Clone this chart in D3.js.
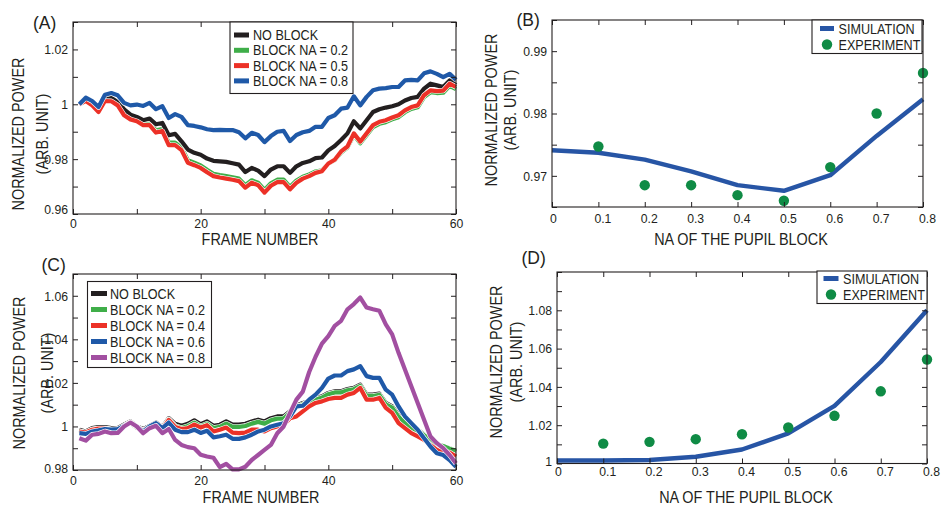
<!DOCTYPE html>
<html>
<head>
<meta charset="utf-8">
<script src="https://cdn.jsdelivr.net/npm/d3@7"></script>
<style>
  html, body { margin: 0; padding: 0; background: #fff; }
  svg text { font-family: "Liberation Sans", Arial, sans-serif; fill: #231f20; }
</style>
</head>
<body>
<svg id="fig" width="946" height="505"></svg>
<script>
// ---------- data ----------
const frames = d3.range(1, 61);

// (A) normalized power per frame
const aNoBlock = [1.0000,1.0024,1.0012,0.9980,1.0020,1.0023,1.0008,0.9982,0.9962,0.9954,
  0.9942,0.9948,0.9927,0.9932,0.9887,0.9892,0.9865,0.9835,0.9823,0.9816,
  0.9802,0.9794,0.9792,0.9790,0.9785,0.9780,0.9753,0.9768,0.9758,0.9738,
  0.9762,0.9774,0.9774,0.9750,0.9774,0.9786,0.9792,0.9804,0.9806,0.9832,
  0.9848,0.9870,0.9894,0.9938,0.9912,0.9942,0.9972,0.9982,0.9988,0.9993,
  1.0000,1.0014,1.0023,1.0027,1.0057,1.0075,1.0069,1.0063,1.0087,1.0069];
const aNA02 = [1.0000,1.0016,1.0002,0.9976,1.0016,1.0015,1.0001,0.9966,0.9951,0.9944,
  0.9931,0.9931,0.9905,0.9910,0.9860,0.9860,0.9842,0.9796,0.9787,0.9777,
  0.9761,0.9747,0.9742,0.9738,0.9734,0.9729,0.9705,0.9723,0.9714,0.9688,
  0.9712,0.9725,0.9725,0.9699,0.9722,0.9736,0.9744,0.9755,0.9759,0.9784,
  0.9796,0.9824,0.9842,0.9888,0.9858,0.9887,0.9917,0.9929,0.9935,0.9945,
  0.9953,0.9971,0.9983,0.9989,1.0026,1.0044,1.0041,1.0042,1.0067,1.0055];
const aNA05 = [1.0000,1.0012,0.9996,0.9972,1.0012,1.0011,0.9996,0.9960,0.9945,0.9938,
  0.9924,0.9924,0.9897,0.9902,0.9851,0.9851,0.9833,0.9787,0.9778,0.9768,
  0.9752,0.9738,0.9733,0.9729,0.9725,0.9720,0.9696,0.9714,0.9705,0.9678,
  0.9703,0.9716,0.9716,0.9690,0.9714,0.9729,0.9738,0.9750,0.9756,0.9784,
  0.9798,0.9828,0.9846,0.9894,0.9864,0.9894,0.9924,0.9936,0.9942,0.9952,
  0.9960,0.9978,0.9990,0.9996,1.0033,1.0051,1.0048,1.0050,1.0075,1.0063];
const aNA08 = [1.0000,1.0024,1.0012,0.9990,1.0035,1.0041,1.0033,1.0005,0.9996,0.9999,
  0.9994,1.0005,0.9982,0.9993,0.9950,0.9964,0.9954,0.9924,0.9921,0.9916,
  0.9909,0.9906,0.9907,0.9906,0.9906,0.9898,0.9876,0.9896,0.9888,0.9862,
  0.9884,0.9900,0.9903,0.9866,0.9888,0.9898,0.9903,0.9918,0.9918,0.9950,
  0.9960,0.9984,0.9988,1.0029,0.9996,1.0027,1.0051,1.0057,1.0059,1.0063,
  1.0063,1.0087,1.0089,1.0087,1.0113,1.0120,1.0111,1.0099,1.0111,1.0089];

// (C) normalized power per frame
const cNoBlock = [0.9985,0.9977,0.9992,0.9997,0.9997,0.9992,0.9992,1.0008,1.0023,1.0000,
  0.9988,1.0003,1.0018,0.9997,1.0038,1.0012,1.0003,1.0012,1.0028,1.0010,
  1.0023,1.0003,1.0008,1.0023,1.0008,1.0008,1.0012,1.0023,1.0031,1.0023,
  1.0038,1.0046,1.0046,1.0069,1.0095,1.0108,1.0115,1.0131,1.0138,1.0154,
  1.0162,1.0162,1.0172,1.0177,1.0192,1.0146,1.0146,1.0151,1.0108,1.0092,
  1.0054,1.0023,1.0000,0.9985,0.9962,0.9938,0.9915,0.9908,0.9900,0.9885];
const cNA02 = [0.9979,0.9971,0.9986,0.9991,0.9991,0.9986,0.9986,1.0002,1.0017,0.9994,
  0.9982,0.9997,1.0012,0.9991,1.0032,1.0002,0.9993,1.0002,1.0018,1.0000,
  1.0013,0.9993,0.9998,1.0013,0.9998,0.9998,1.0002,1.0013,1.0021,1.0013,
  1.0028,1.0036,1.0036,1.0063,1.0089,1.0102,1.0109,1.0125,1.0132,1.0148,
  1.0156,1.0156,1.0166,1.0171,1.0186,1.0140,1.0140,1.0145,1.0102,1.0086,
  1.0045,1.0015,0.9995,0.9980,0.9960,0.9938,0.9918,0.9910,0.9898,0.9888];
const cNA04 = [0.9977,0.9972,0.9985,0.9990,0.9990,0.9985,0.9985,1.0003,1.0020,0.9997,
  0.9982,0.9997,1.0012,0.9990,1.0030,0.9998,0.9988,0.9992,1.0008,0.9995,
  1.0006,0.9977,0.9985,0.9995,0.9972,0.9969,0.9972,0.9985,0.9985,0.9977,
  0.9992,1.0000,1.0008,1.0038,1.0046,1.0069,1.0092,1.0108,1.0115,1.0126,
  1.0131,1.0131,1.0146,1.0154,1.0177,1.0123,1.0123,1.0131,1.0085,1.0062,
  1.0015,0.9992,0.9969,0.9954,0.9938,0.9915,0.9892,0.9885,0.9880,0.9862];
const cNA06 = [0.9969,0.9966,0.9977,0.9982,0.9988,0.9985,0.9988,1.0003,1.0018,1.0000,
  0.9977,1.0000,1.0015,0.9992,1.0018,0.9985,0.9974,0.9974,0.9985,0.9970,
  0.9980,0.9950,0.9955,0.9962,0.9943,0.9943,0.9950,0.9962,0.9977,0.9985,
  1.0000,1.0008,1.0015,1.0046,1.0092,1.0095,1.0123,1.0146,1.0177,1.0220,
  1.0234,1.0234,1.0254,1.0262,1.0277,1.0231,1.0223,1.0223,1.0169,1.0146,
  1.0092,1.0046,1.0015,0.9985,0.9946,0.9908,0.9877,0.9869,0.9846,0.9815];
const cNA08 = [0.9946,0.9935,0.9962,0.9966,0.9977,0.9969,0.9970,1.0000,1.0018,1.0000,
  0.9969,0.9992,1.0003,0.9969,0.9988,0.9938,0.9915,0.9905,0.9900,0.9870,
  0.9862,0.9856,0.9813,0.9828,0.9803,0.9803,0.9815,0.9846,0.9869,0.9892,
  0.9915,0.9969,1.0000,1.0062,1.0123,1.0160,1.0250,1.0320,1.0380,1.0415,
  1.0462,1.0485,1.0538,1.0562,1.0592,1.0546,1.0538,1.0531,1.0469,1.0423,
  1.0338,1.0262,1.0185,1.0108,1.0031,0.9954,0.9923,0.9900,0.9869,0.9831];

// (B) and (D): NA of the pupil block
const naSim = [0, 0.1, 0.2, 0.3, 0.4, 0.5, 0.6, 0.7, 0.8];
const naExp = [0.1, 0.2, 0.3, 0.4, 0.5, 0.6, 0.7, 0.8];
const bSimulation = [0.9741, 0.9737, 0.9726, 0.9707, 0.9685, 0.9676, 0.9701, 0.9764, 0.9823];
const bExperiment = [0.9747, 0.9685, 0.9685, 0.9669, 0.9660, 0.9714, 0.9800, 0.9865];
const dSimulation = [1.0016, 1.0016, 1.0018, 1.0035, 1.0073, 1.0157, 1.0301, 1.0530, 1.0800];
const dExperiment = [1.0104, 1.0113, 1.0127, 1.0153, 1.0188, 1.0249, 1.0377, 1.0543];

// tick labels
const frameTickLabels = ["0", "20", "40", "60"];
const naTickLabels = ["0", "0.1", "0.2", "0.3", "0.4", "0.5", "0.6", "0.7", "0.8"];
const aYTickLabels = ["0.96", "0.98", "1", "1.02"];
const bYTickLabels = ["0.97", "0.98", "0.99"];
const cYTickLabels = ["0.98", "1", "1.02", "1.04", "1.06"];
const dYTickLabels = ["1", "1.02", "1.04", "1.06", "1.08"];

const aLegend = ["NO BLOCK", "BLOCK NA = 0.2", "BLOCK NA = 0.5", "BLOCK NA = 0.8"];
const cLegend = ["NO BLOCK", "BLOCK NA = 0.2", "BLOCK NA = 0.4", "BLOCK NA = 0.6", "BLOCK NA = 0.8"];
const naLegend = ["SIMULATION", "EXPERIMENT"];

// ---------- style ----------
const INK = "#231f20";
const COL = { black: "#231f20", green: "#3fae49", red: "#ec3127", blue: "#1f59a8", purple: "#a24fa1", sim: "#2755a5", exp: "#0f8b45" };

const svg = d3.select("#fig");

// narrow the set glyphs horizontally, giving a condensed face
function condense(sel, k) {
  sel.each(function () {
    const w = this.getComputedTextLength();
    if (w > 0) {
      this.setAttribute("textLength", (w * k).toFixed(1));
      this.setAttribute("lengthAdjust", "spacingAndGlyphs");
    }
  });
}

function labelAt(labels) {
  return v => {
    const s = labels.find(t => Math.abs(+t - v) < 1e-9);
    return s === undefined ? "" : s;
  };
}

function drawPanel(p) {
  const g = svg.append("g");
  const x = d3.scaleLinear().domain(p.xDomain).range([p.left, p.right]);
  const y = d3.scaleLinear().domain(p.yDomain).range([p.bottom, p.top]);

  // series
  const line = d3.line().x(d => x(d[0])).y(d => y(d[1]));
  p.series.forEach(s => {
    const pts = s.x.map((v, i) => [v, s.y[i]]);
    if (s.casing) {
      g.append("path").attr("d", line(pts)).attr("fill", "none")
        .attr("stroke", "#fff").attr("stroke-width", s.width + 1.2).attr("stroke-linejoin", "round");
    }
    g.append("path").attr("d", line(pts)).attr("fill", "none")
      .attr("stroke", s.color).attr("stroke-width", s.width).attr("stroke-linejoin", "round");
  });
  (p.dots || []).forEach(s => {
    g.selectAll(null).data(s.x.map((v, i) => [v, s.y[i]])).enter().append("circle")
      .attr("cx", d => x(d[0])).attr("cy", d => y(d[1])).attr("r", 5.2).attr("fill", s.color);
  });

  // axes, ticks pointing inward on all four sides
  const axes = [
    [d3.axisBottom(x).tickValues(p.xTicks).tickFormat(labelAt(p.xLabels)).tickPadding(p.xPad), `translate(0,${p.bottom})`, "bottom"],
    [d3.axisTop(x).tickValues(p.xTicks).tickFormat(""), `translate(0,${p.top})`, "top"],
    [d3.axisLeft(y).tickValues(p.yTicks).tickFormat(labelAt(p.yLabels)).tickPadding(5), `translate(${p.left},0)`, "left"],
    [d3.axisRight(y).tickValues(p.yTicks).tickFormat(""), `translate(${p.right},0)`, "right"]
  ];
  axes.forEach(([ax, tr, side]) => {
    const a = g.append("g").attr("transform", tr)
      .call(ax.tickSize(-5).tickSizeOuter(0));
    a.select(".domain").remove();
    a.selectAll("line").attr("stroke", INK).attr("stroke-width", 1);
    const tx = a.selectAll("text").attr("font-size", 13.6).attr("fill", INK)
      .attr("font-family", "Liberation Sans, Arial, sans-serif");
    condense(tx, 0.9);
    if (side === "left" && p.bottomLabelLift) {
      a.selectAll(".tick").filter(d => Math.abs(d - p.yDomain[0]) < 1e-9)
        .select("text").attr("y", -p.bottomLabelLift);
    }
    if (side === "bottom" && p.xLabelShift) {
      a.selectAll(".tick text").attr("dx", d => d === 0 ? 1 : p.xLabelShift);
    }
  });

  // axes box
  g.append("rect").attr("x", p.left).attr("y", p.top)
    .attr("width", p.right - p.left).attr("height", p.bottom - p.top)
    .attr("fill", "none").attr("stroke", INK).attr("stroke-width", 1.1);

  // legend
  const L = p.legend;
  const lg = g.append("g");
  lg.append("rect").attr("x", L.x0).attr("y", L.y0).attr("width", L.x1 - L.x0).attr("height", L.y1 - L.y0)
    .attr("fill", "#fff").attr("stroke", INK).attr("stroke-width", 1.1);
  L.items.forEach((it, i) => {
    const yy = L.firstY + i * L.step;
    if (it.kind === "dot") {
      lg.append("circle").attr("cx", (L.sx0 + L.sx1) / 2).attr("cy", yy).attr("r", 5.2).attr("fill", it.color);
    } else {
      lg.append("line").attr("x1", L.sx0).attr("x2", L.sx1).attr("y1", yy).attr("y2", yy)
        .attr("stroke", it.color).attr("stroke-width", 5);
    }
    const t = lg.append("text").attr("x", L.tx).attr("y", yy).attr("dy", "0.36em")
      .attr("font-size", 14).text(it.label);
    condense(t, 0.9);
  });

  // titles
  g.append("text").attr("x", p.letter[0]).attr("y", p.letter[1]).attr("font-size", 17.5).text(p.letter[2]);
  const xt = g.append("text").attr("x", p.xTitle[0]).attr("y", p.xTitle[1]).attr("dy", "0.36em")
    .attr("text-anchor", "middle").attr("font-size", 16).text(p.xTitle[2]);
  condense(xt, 0.9);
  p.yTitle.forEach(t => {
    const yt = g.append("text").attr("transform", `translate(${t[0]},${t[1]}) rotate(-90)`).attr("dy", "0.36em")
      .attr("text-anchor", "middle").attr("font-size", 16).text(t[2]);
    condense(yt, 0.9);
  });
}

const frameTicks = [0, 10, 20, 30, 40, 50, 60];
const naTicks = [0, 0.1, 0.2, 0.3, 0.4, 0.5, 0.6, 0.7, 0.8];

// (A)
drawPanel({
  left: 73, right: 456, top: 22, bottom: 214,
  xDomain: [0, 60], yDomain: [0.96, 1.03],
  xTicks: frameTicks, xLabels: frameTickLabels, xPad: 4,
  yTicks: [0.96, 0.97, 0.98, 0.99, 1.0, 1.01, 1.02, 1.03], yLabels: aYTickLabels,
  bottomLabelLift: 4.5,
  series: [
    { x: frames, y: aNA02, color: COL.green, width: 4.2, casing: true },
    { x: frames, y: aNoBlock, color: COL.black, width: 4.2, casing: true },
    { x: frames, y: aNA05, color: COL.red, width: 4.2, casing: true },
    { x: frames, y: aNA08, color: COL.blue, width: 4.2, casing: true }
  ],
  legend: { x0: 230, x1: 353, y0: 22, y1: 93.5, firstY: 35, step: 15.3, sx0: 234, sx1: 249, tx: 253,
    items: [
      { label: aLegend[0], color: COL.black }, { label: aLegend[1], color: COL.green },
      { label: aLegend[2], color: COL.red }, { label: aLegend[3], color: COL.blue }
    ] },
  letter: [33, 29, "(A)"],
  xTitle: [260, 239, "FRAME NUMBER"],
  yTitle: [[18, 134, "NORMALIZED POWER"], [42, 134, "(ARB. UNIT)"]]
});

// (B)
drawPanel({
  left: 552, right: 923, top: 20, bottom: 207,
  xDomain: [0, 0.8], yDomain: [0.965, 0.995],
  xTicks: naTicks, xLabels: naTickLabels, xPad: 6, xLabelShift: 4,
  yTicks: [0.965, 0.97, 0.975, 0.98, 0.985, 0.99, 0.995], yLabels: bYTickLabels,
  series: [{ x: naSim, y: bSimulation, color: COL.sim, width: 4.4 }],
  dots: [{ x: naExp, y: bExperiment, color: COL.exp }],
  legend: { x0: 812, x1: 922, y0: 20, y1: 53.5, firstY: 28.5, step: 16, sx0: 820, sx1: 834, tx: 838.5,
    items: [{ label: naLegend[0], color: COL.sim }, { label: naLegend[1], color: COL.exp, kind: "dot" }] },
  letter: [516.5, 26, "(B)"],
  xTitle: [741, 239.5, "NA OF THE PUPIL BLOCK"],
  yTitle: [[491.5, 110, "NORMALIZED POWER"], [510, 110, "(ARB. UNIT)"]]
});

// (C)
drawPanel({
  left: 73, right: 456, top: 274, bottom: 470,
  xDomain: [0, 60], yDomain: [0.98, 1.07],
  xTicks: frameTicks, xLabels: frameTickLabels, xPad: 5,
  yTicks: [0.98, 0.99, 1.0, 1.01, 1.02, 1.03, 1.04, 1.05, 1.06, 1.07], yLabels: cYTickLabels,
  bottomLabelLift: 2,
  series: [
    { x: frames, y: cNoBlock, color: COL.black, width: 4.2, casing: true },
    { x: frames, y: cNA02, color: COL.green, width: 4.2, casing: true },
    { x: frames, y: cNA04, color: COL.red, width: 4.2, casing: true },
    { x: frames, y: cNA06, color: COL.blue, width: 4.2, casing: true },
    { x: frames, y: cNA08, color: COL.purple, width: 4.2, casing: true }
  ],
  legend: { x0: 87.5, x1: 211.5, y0: 281.5, y1: 367.5, firstY: 293.5, step: 16, sx0: 91, sx1: 107, tx: 110,
    items: [
      { label: cLegend[0], color: COL.black }, { label: cLegend[1], color: COL.green },
      { label: cLegend[2], color: COL.red }, { label: cLegend[3], color: COL.blue },
      { label: cLegend[4], color: COL.purple }
    ] },
  letter: [41.5, 271, "(C)"],
  xTitle: [261, 497, "FRAME NUMBER"],
  yTitle: [[19, 373, "NORMALIZED POWER"], [47, 373, "(ARB. UNIT)"]]
});

// (D)
drawPanel({
  left: 557, right: 927, top: 272, bottom: 463.5,
  xDomain: [0, 0.8], yDomain: [1.0, 1.1],
  xTicks: naTicks, xLabels: naTickLabels, xPad: 2.5, xLabelShift: 4,
  yTicks: [1.0, 1.01, 1.02, 1.03, 1.04, 1.05, 1.06, 1.07, 1.08, 1.09, 1.1], yLabels: dYTickLabels,
  bottomLabelLift: 2.6,
  series: [{ x: naSim, y: dSimulation, color: COL.sim, width: 4.4 }],
  dots: [{ x: naExp, y: dExperiment, color: COL.exp }],
  legend: { x0: 817, x1: 927, y0: 271, y1: 303.5, firstY: 278.5, step: 16, sx0: 823.5, sx1: 838.5, tx: 843,
    items: [{ label: naLegend[0], color: COL.sim }, { label: naLegend[1], color: COL.exp, kind: "dot" }] },
  letter: [521.5, 264, "(D)"],
  xTitle: [746, 497, "NA OF THE PUPIL BLOCK"],
  yTitle: [[496.5, 362, "NORMALIZED POWER"], [516.5, 362, "(ARB. UNIT)"]]
});
</script>
</body>
</html>
